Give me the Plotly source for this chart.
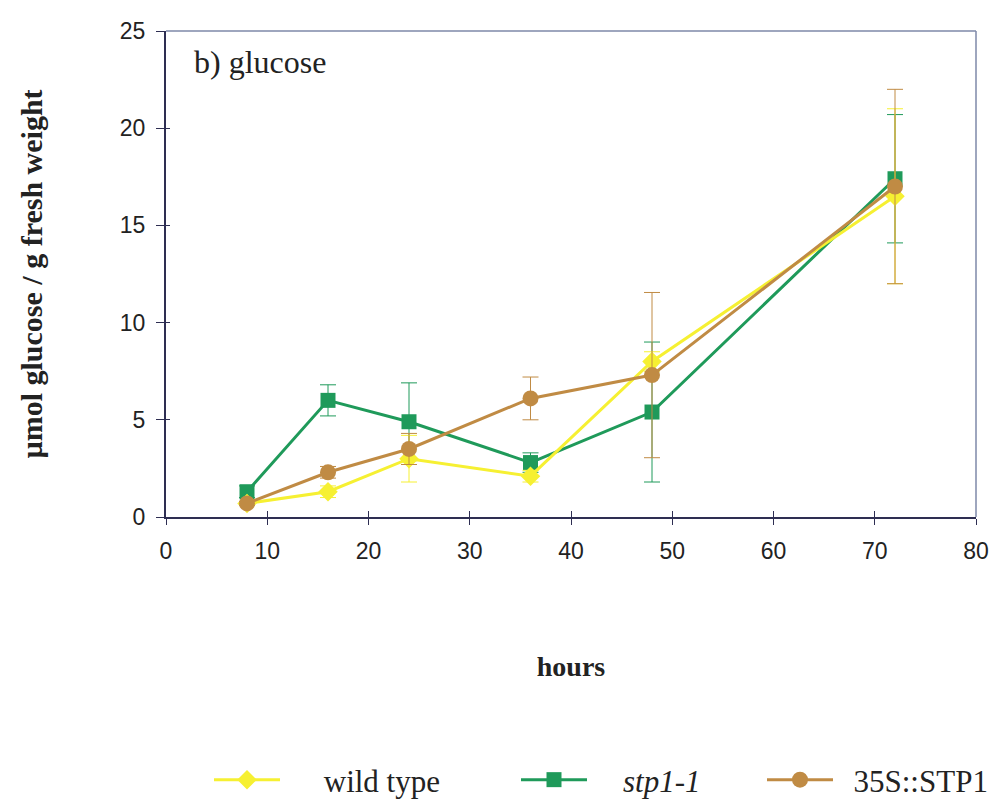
import plotly.graph_objects as go

# Sampling times (hours)
hours = [8, 16, 24, 36, 48, 72]

# Glucose content, µmol / g fresh weight, with error bar half-widths
wild_type = [0.7, 1.3, 3.0, 2.1, 8.0, 16.5]
wild_type_err = [0.1, 0.3, 1.2, 0.3, 0.5, 4.5]

stp1_1 = [1.3, 6.0, 4.9, 2.8, 5.4, 17.4]
stp1_1_err = [0.3, 0.8, 2.0, 0.5, 3.6, 3.3]

stp1_oe = [0.7, 2.3, 3.5, 6.1, 7.3, 17.0]
stp1_oe_err = [0.1, 0.3, 0.8, 1.1, 4.25, 5.0]

x_ticks = [0, 10, 20, 30, 40, 50, 60, 70, 80]
y_ticks = [0, 5, 10, 15, 20, 25]

YELLOW = "#F6F032"
GREEN = "#1F9A5A"
BROWN = "#C08B44"
AXIS = "#2E2E52"
FRAME = "#7E88A8"
TEXT = "#222222"

serif = "Liberation Serif"
sans = "Liberation Sans"

NBSP = "\u00a0"

# plot-area geometry in pixels
W, H = 996, 803
ML, MR, MT, MB = 166, 20, 31, 286
PW, PH = W - ML - MR, H - MT - MB


def px_x(p):
    return (p - ML) / PW


def px_y(p):
    return (H - MB - p) / PH


def series(name, y, err, color, symbol, size, legend):
    return go.Scatter(
        x=hours, y=y, name=name, mode="lines+markers",
        line=dict(color=color, width=3),
        marker=dict(color=color, symbol=symbol, size=size, line=dict(width=0)),
        error_y=dict(type="data", array=err, visible=True,
                     color=color, thickness=1, width=8),
        legend=legend,
    )


fig = go.Figure()
fig.add_trace(series(NBSP * 4 + "<i>stp1-1</i>", stp1_1, stp1_1_err,
                     GREEN, "square", 15, "legend2"))
fig.add_trace(series(NBSP * 5 + "wild type", wild_type, wild_type_err,
                     YELLOW, "diamond", 15, "legend"))
fig.add_trace(series(NBSP * 2 + "35S::STP1", stp1_oe, stp1_oe_err,
                     BROWN, "circle", 16, "legend3"))

axis_common = dict(showgrid=False, zeroline=False, ticks="outside",
                   tickcolor=AXIS, tickwidth=1, showline=True,
                   linecolor=AXIS, linewidth=2, ticklabelstandoff=6)


def legend_box(left_px):
    return dict(orientation="h", x=px_x(left_px), xanchor="left",
                y=px_y(780), yanchor="middle", itemwidth=66,
                font=dict(family=serif, size=31, color=TEXT),
                bgcolor="rgba(0,0,0,0)")


fig.update_layout(
    width=W, height=H,
    margin=dict(l=ML, r=MR, t=MT, b=MB, autoexpand=False),
    paper_bgcolor="white", plot_bgcolor="white",
    showlegend=True,
    xaxis=dict(range=[0, 80], tickvals=x_ticks, ticklen=6,
               tickfont=dict(family=sans, size=23, color=TEXT),
               title=dict(text="<b>hours</b>", standoff=94,
                          font=dict(family=serif, size=28, color=TEXT)),
               **axis_common),
    yaxis=dict(range=[0, 25], tickvals=y_ticks, ticklen=8,
               tickfont=dict(family=sans, size=23, color=TEXT),
               title=dict(text="<b>µmol glucose / g fresh weight</b>", standoff=68,
                          font=dict(family=serif, size=30, color=TEXT)),
               **axis_common),
    # overlay axes carrying the inward half of the tick marks
    xaxis2=dict(range=[0, 80], tickvals=x_ticks, overlaying="x", anchor="y",
                side="bottom", ticks="inside", ticklen=6, tickcolor=AXIS,
                showticklabels=False, showgrid=False, zeroline=False),
    yaxis2=dict(range=[0, 25], tickvals=y_ticks, overlaying="y", anchor="x",
                side="left", ticks="inside", ticklen=4, tickcolor=AXIS,
                showticklabels=False, showgrid=False, zeroline=False),
    legend=legend_box(209),
    legend2=legend_box(516),
    legend3=legend_box(762),
    shapes=[
        dict(type="line", xref="paper", yref="paper", x0=0, x1=1, y0=1, y1=1,
             line=dict(color=FRAME, width=1.5)),
        dict(type="line", xref="paper", yref="paper", x0=1, x1=1, y0=0, y1=1,
             line=dict(color=FRAME, width=1.5)),
    ],
    annotations=[
        dict(text="b) glucose", xref="paper", yref="paper",
             x=px_x(192), y=px_y(42), xanchor="left", yanchor="top",
             showarrow=False, font=dict(family=serif, size=32, color=TEXT)),
    ],
)

# invisible trace that attaches the overlay axes
fig.add_trace(go.Scatter(x=[None], y=[None], xaxis="x2", yaxis="y2",
                         showlegend=False, hoverinfo="skip"))

fig.write_html("out.html")
